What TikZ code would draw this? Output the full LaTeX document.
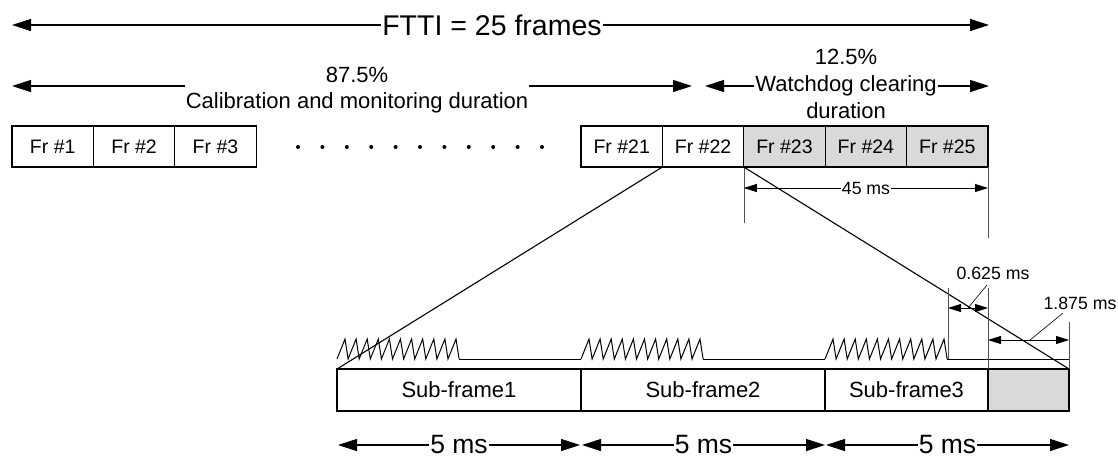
\documentclass[tikz,border=0pt]{standalone}
\usepackage{fontspec}
\setmainfont{Liberation Sans}
\usetikzlibrary{arrows.meta}
\definecolor{boxgray}{RGB}{217,217,217}
\definecolor{extgray}{RGB}{80,80,80}
\begin{document}
\begin{tikzpicture}[x=1pt,y=-1pt,
  every node/.style={inner sep=0pt, outer sep=0pt},
  frbox/.style={draw, line width=1.1pt, minimum width=81.4pt, minimum height=41pt, anchor=north west, font=\fontsize{19.5}{22}\selectfont},
  grayfr/.style={frbox, fill=boxgray},
  subbox/.style={draw, line width=1.1pt, minimum height=42pt, anchor=north west, font=\fontsize{22}{26}\selectfont},
  bigtxt/.style={font=\fontsize{28.5}{30}\selectfont, inner xsep=1pt},
  fivetxt/.style={font=\fontsize{26.5}{30}\selectfont, inner xsep=1pt},
  midtxt/.style={font=\fontsize{22}{26}\selectfont, align=center, inner xsep=1pt},
  wdtxt/.style={font=\fontsize{22}{27}\selectfont, align=center, inner xsep=1pt},
  smalltxt/.style={font=\fontsize{17.7}{20}\selectfont, inner xsep=1pt},
  bigarrow/.style={line width=1.1pt, -{Triangle[length=19pt,width=12pt]}},
  smallarrow/.style={line width=0.8pt, -{Triangle[length=13pt,width=8pt]}},
  dblarrow/.style={line width=0.8pt, {Triangle[length=13pt,width=8pt]}-{Triangle[length=13pt,width=8pt]}},
  extline/.style={line width=0.6pt, extgray},
  leader/.style={line width=0.6pt},
  diag/.style={line width=1.1pt},
  saw/.style={line width=1pt, line join=miter},
]
\useasboundingbox (0,0) rectangle (1118,459);

% ---- top FTTI arrow
\node[bigtxt] (ftti) at (492,25) {FTTI = 25 frames};
\coordinate (ftL) at (12,25);
\coordinate (ftR) at (989,25);
\draw[bigarrow] (ftti.west) -- (ftL);
\draw[bigarrow] (ftti.east) -- (ftR);

% ---- second row
\node[midtxt] (cal) at (357,90) {87.5\%\\Calibration and monitoring duration};
\node[wdtxt] (wd) at (846,84) {12.5\%\\Watchdog clearing\\duration};
\coordinate (calL) at (12,86);
\coordinate (calR) at (692,86);
\coordinate (wdL) at (705,86);
\coordinate (wdR) at (989,86);
\draw[bigarrow] (cal.west |- calL) -- (calL);
\draw[bigarrow] (cal.east |- calR) -- (calR);
\draw[bigarrow] (wd.west |- wdL) -- (wdL);
\draw[bigarrow] (wd.east |- wdR) -- (wdR);

% ---- frames
\node[frbox] (f1) at (12,126) {Fr \#1};
\node[frbox] (f2) at (93.4,126) {Fr \#2};
\node[frbox] (f3) at (174.8,126) {Fr \#3};
\foreach \i in {0,...,10} \fill ({298+\i*24.4},147) circle (2pt);
\node[frbox] (f21) at (581,126) {Fr \#21};
\node[frbox] (f22) at (662.4,126) {Fr \#22};
\node[grayfr] (f23) at (743.8,126) {Fr \#23};
\node[grayfr] (f24) at (825.2,126) {Fr \#24};
\node[grayfr] (f25) at (906.6,126) {Fr \#25};

% ---- 45 ms dimension
\coordinate (e1) at (743.8,223);
\coordinate (e2) at (988,238);
\draw[extline] (f23.south west) -- (e1);
\draw[extline] (f25.south east) -- (e2);
\node[smalltxt] (t45) at (866,188) {45 ms};
\coordinate (d45L) at (743.8,188);
\coordinate (d45R) at (988,188);
\draw[smallarrow] (t45.west) -- (d45L);
\draw[smallarrow] (t45.east) -- (d45R);

% ---- sub-frames
\node[subbox, minimum width=244pt] (s1) at (337,369) {Sub-frame1};
\node[subbox, minimum width=244pt] (s2) at (581,369) {Sub-frame2};
\node[subbox, minimum width=163pt] (s3) at (825,369) {Sub-frame3};
\node[subbox, minimum width=81pt, fill=boxgray] (sg) at (988,369) {};

% ---- zoom diagonals
\draw[diag] (f22.south west) -- (s1.north west);
\draw[diag] (f23.south west) -- (sg.north east);

% ---- sawtooth signal
\foreach \s in {337,581,825} {
  \draw[saw] (\s,359) \foreach \k in {0,...,10} { -- ({\s+\k*11.1+8},339) -- ({\s+(\k+1)*11.1},359) };
}
\draw[saw] (459.1,359) -- (581,359);
\draw[saw] (703.1,359) -- (825,359);
\draw[saw] (947.1,359) -- (1069,359);

% ---- 0.625 ms and 1.875 ms dimensions
\coordinate (x1t) at (948,288);
\coordinate (x1b) at (948,359);
\coordinate (x2t) at (988,288);
\coordinate (x3t) at (1069,322);
\draw[extline] (x1t) -- (x1b);
\draw[extline] (x2t) -- (sg.north west);
\draw[extline] (x3t) -- (sg.north east);

\coordinate (a1L) at (948,308);
\coordinate (a1R) at (988,308);
\draw[dblarrow] (a1L) -- (a1R);
\node[smalltxt] (t0625) at (993,273) {0.625 ms};
\coordinate (l1a) at (968,308);
\coordinate (l1b) at (987,285);
\draw[leader] (l1a) -- (l1b);

\coordinate (a2L) at (988,340);
\coordinate (a2R) at (1069,340);
\draw[dblarrow] (a2L) -- (a2R);
\node[smalltxt] (t1875) at (1080,303) {1.875 ms};
\coordinate (l2a) at (1030,340);
\coordinate (l2b) at (1063,313);
\draw[leader] (l2a) -- (l2b);

% ---- 5 ms arrows
\node[fivetxt] (m1) at (459,445) {5 ms};
\node[fivetxt] (m2) at (703.5,445) {5 ms};
\node[fivetxt] (m3) at (947.5,445) {5 ms};
\coordinate (m1L) at (338,445);
\coordinate (m1R) at (580,445);
\coordinate (m2L) at (582,445);
\coordinate (m2R) at (825,445);
\coordinate (m3L) at (826,445);
\coordinate (m3R) at (1069,445);
\draw[bigarrow] (m1.west) -- (m1L);
\draw[bigarrow] (m1.east) -- (m1R);
\draw[bigarrow] (m2.west) -- (m2L);
\draw[bigarrow] (m2.east) -- (m2R);
\draw[bigarrow] (m3.west) -- (m3L);
\draw[bigarrow] (m3.east) -- (m3R);
\end{tikzpicture}
\end{document}
